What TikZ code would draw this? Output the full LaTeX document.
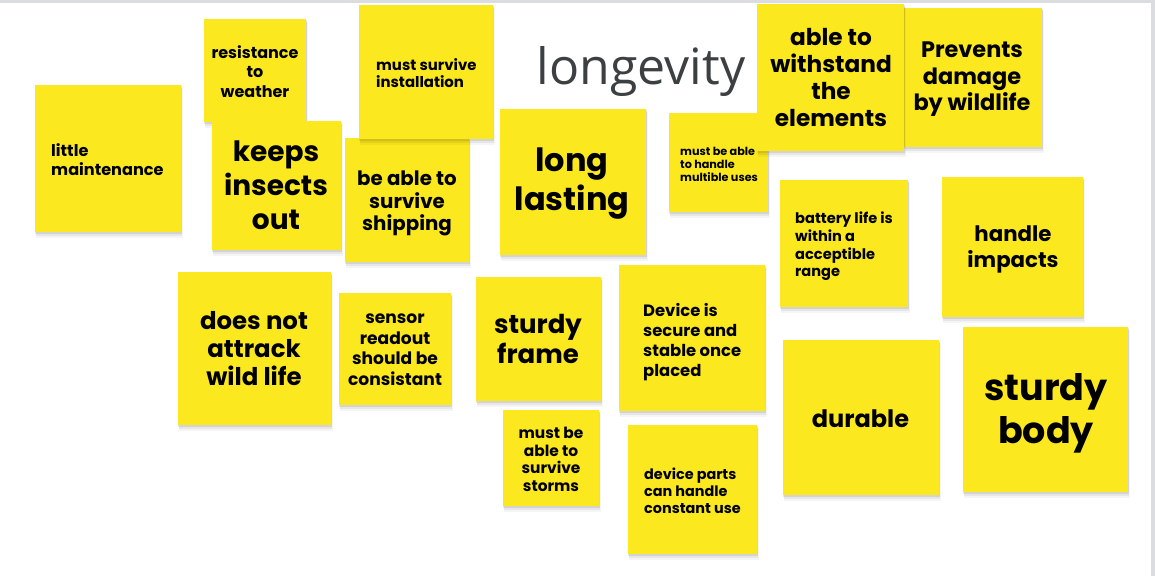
\documentclass[tikz,border=0pt]{standalone}
\usepackage{fontspec}
\setmainfont{Poppins}
\newfontfamily\titlefont{Open Sans}
\definecolor{sticky}{RGB}{251,232,30}
\definecolor{titlegray}{RGB}{60,64,67}
\definecolor{edgegray}{RGB}{218,220,224}
\newcommand{\stickynote}[4]{%
  \fill[black,opacity=0.04] (#1+1,#2+3) rectangle (#3+2,#4+6);
  \fill[black,opacity=0.06] (#1+0.5,#2+2) rectangle (#3+1,#4+4);
  \fill[black,opacity=0.08] (#1,#2+1) rectangle (#3+0.5,#4+2);
  \fill[sticky] (#1,#2) rectangle (#3,#4);
}
\tikzset{
  notetext/.style={inner sep=0pt, align=center, text=black, yshift=-3.5pt,
    execute at begin node=\strut, execute at end node=\strut},
  notetextl/.style={notetext, align=left, anchor=west},
}
\newcommand{\fs}[2]{\bfseries\fontsize{#1}{#2}\selectfont}
\begin{document}
\begin{tikzpicture}[x=1pt,y=-1pt]
\useasboundingbox (0,0) rectangle (1155,576);
\fill[white] (0,0) rectangle (1155,576);
\fill[edgegray] (0,0) rectangle (1155,3);
\fill[edgegray] (1151,0) rectangle (1155,576);

% title
\node[inner sep=0pt, anchor=base, text=titlegray, font=\titlefont\fontsize{50}{60}\selectfont] (title) at (641,84) {longevity};

% notes
\stickynote{35}{85}{181}{232}
\node[notetextl, font=\fs{16.1}{19}] (t1) at (51,159) {little\\maintenance};

\stickynote{204}{19}{306}{122}
\node[notetext, font=\fs{16}{19.5}] (t2) at (255,71) {resistance\\to\\weather};

\stickynote{212}{121}{341}{250}
\node[notetext, font=\fs{28}{34}] (t3) at (276,187) {keeps\\insects\\out};

\stickynote{345}{138}{469}{262}
\node[notetext, font=\fs{19.8}{22.5}] (t4) at (407,201) {be able to\\survive\\shipping};

\stickynote{359}{5}{493}{139}
\node[notetextl, font=\fs{14.9}{17}] (t5) at (376,72) {must survive\\installation};

\stickynote{500}{109}{646}{255}
\node[notetext, font=\fs{32}{39}] (t6) at (572,182) {long\\lasting};

\stickynote{669}{113}{768}{212}
\node[notetextl, font=\fs{11.2}{13}] (t7) at (680,163) {must be able\\to handle\\multible uses};

\stickynote{904}{8}{1042}{147}
\node[notetext, font=\fs{22.4}{26.5}] (t8) at (972,77) {Prevents\\damage\\by wildlife};

\stickynote{757}{4}{904}{151}
\node[notetext, font=\fs{23.2}{27.3}] (t9) at (831,78) {able to\\withstand\\the\\elements};

\stickynote{780}{180}{908}{307}
\node[notetextl, font=\fs{14.6}{17.7}] (t10) at (795,243.5) {battery life is\\within a\\acceptible\\range};

\stickynote{942}{177}{1083}{317}
\node[notetext, font=\fs{21.3}{26}] (t11) at (1013,247) {handle\\impacts};

\stickynote{178}{272}{331}{425}
\node[notetext, font=\fs{24.4}{28}] (t12) at (254,349) {does not\\attrack\\wild life};

\stickynote{339}{293}{451}{405}
\node[notetext, font=\fs{17.1}{20.5}] (t13) at (395,349) {sensor\\readout\\should be\\consistant};

\stickynote{476}{277}{601}{401}
\node[notetext, font=\fs{26}{30}] (t14) at (538,340) {sturdy\\frame};

\stickynote{503}{410}{599}{506}
\node[notetext, font=\fs{15.4}{17.7}] (t15) at (551,458.5) {must be\\able to\\survive\\storms};

\stickynote{619}{265}{765}{411}
\node[notetextl, font=\fs{16.4}{20}] (t16) at (643,339) {Device is\\secure and\\stable once\\placed};

\stickynote{628}{425}{757}{554}
\node[notetextl, font=\fs{14.4}{17}] (t17) at (644,490) {device parts\\can handle\\constant use};

\stickynote{783}{340}{939}{495}
\node[notetext, font=\fs{24}{28}] (t18) at (860.5,418) {durable};

\stickynote{963}{327}{1128}{492}
\node[notetext, font=\fs{36.5}{43}] (t19) at (1046,411) {sturdy\\body};
\end{tikzpicture}
\end{document}
